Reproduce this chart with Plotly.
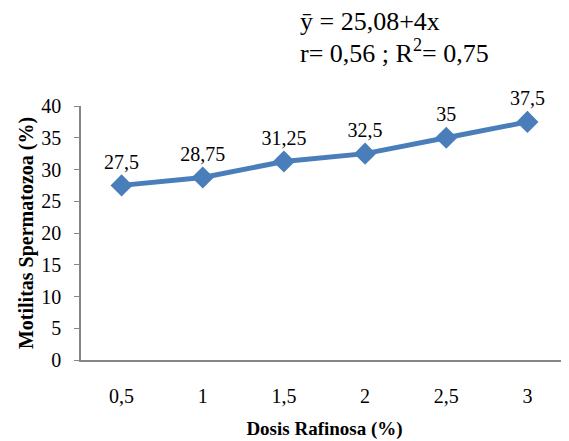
import plotly.graph_objects as go

doses = ["0,5", "1", "1,5", "2", "2,5", "3"]
motility = [27.5, 28.75, 31.25, 32.5, 35, 37.5]
labels = ["27,5", "28,75", "31,25", "32,5", "35", "37,5"]
y_ticks = [0, 5, 10, 15, 20, 25, 30, 35, 40]

FONT = "Liberation Serif"
BLUE = "#4a7ebb"
AXIS = "#868686"

fig = go.Figure()
fig.add_trace(go.Scatter(
    x=doses, y=motility, mode="lines+markers+text",
    line=dict(color=BLUE, width=5),
    marker=dict(symbol="diamond", size=17, color=BLUE),
    text=labels, textposition="top center",
    textfont=dict(family=FONT, size=20, color="black"),
    cliponaxis=False, showlegend=False,
))

fig.update_layout(
    width=561, height=433,
    margin=dict(l=73, r=1, t=98, b=81),
    paper_bgcolor="white", plot_bgcolor="white",
    font=dict(family=FONT, color="black"),
    xaxis=dict(
        type="category", range=[-0.5, 5.5],
        showline=True, linecolor=AXIS, linewidth=1.5,
        showgrid=False, ticks="", ticklabelstandoff=17,
        tickfont=dict(family=FONT, size=20, color="black"),
        title=dict(text="<b>Dosis Rafinosa (%)</b>", font=dict(family=FONT, size=19), standoff=16),
    ),
    yaxis=dict(
        range=[0, 40], tickvals=y_ticks,
        showline=True, linecolor=AXIS, linewidth=1.5,
        showgrid=False, ticks="outside", ticklen=5, tickcolor=AXIS,
        ticklabelstandoff=9,
        tickfont=dict(family=FONT, size=20, color="black"),
        title=dict(text="<b>Motilitas Spermatozoa (%)</b>", font=dict(family=FONT, size=20), standoff=2),
        zeroline=False,
    ),
    annotations=[
        dict(text="ȳ = 25,08+4x", xref="paper", yref="paper", x=0.4456, y=1.331,
             xanchor="left", yanchor="middle", showarrow=False,
             font=dict(family=FONT, size=26, color="black")),
        dict(text="r= 0,56 ; R<sup>2</sup>= 0,75", xref="paper", yref="paper", x=0.4456, y=1.213,
             xanchor="left", yanchor="middle", showarrow=False,
             font=dict(family=FONT, size=26, color="black")),
    ],
)

fig.write_html("out.html")
